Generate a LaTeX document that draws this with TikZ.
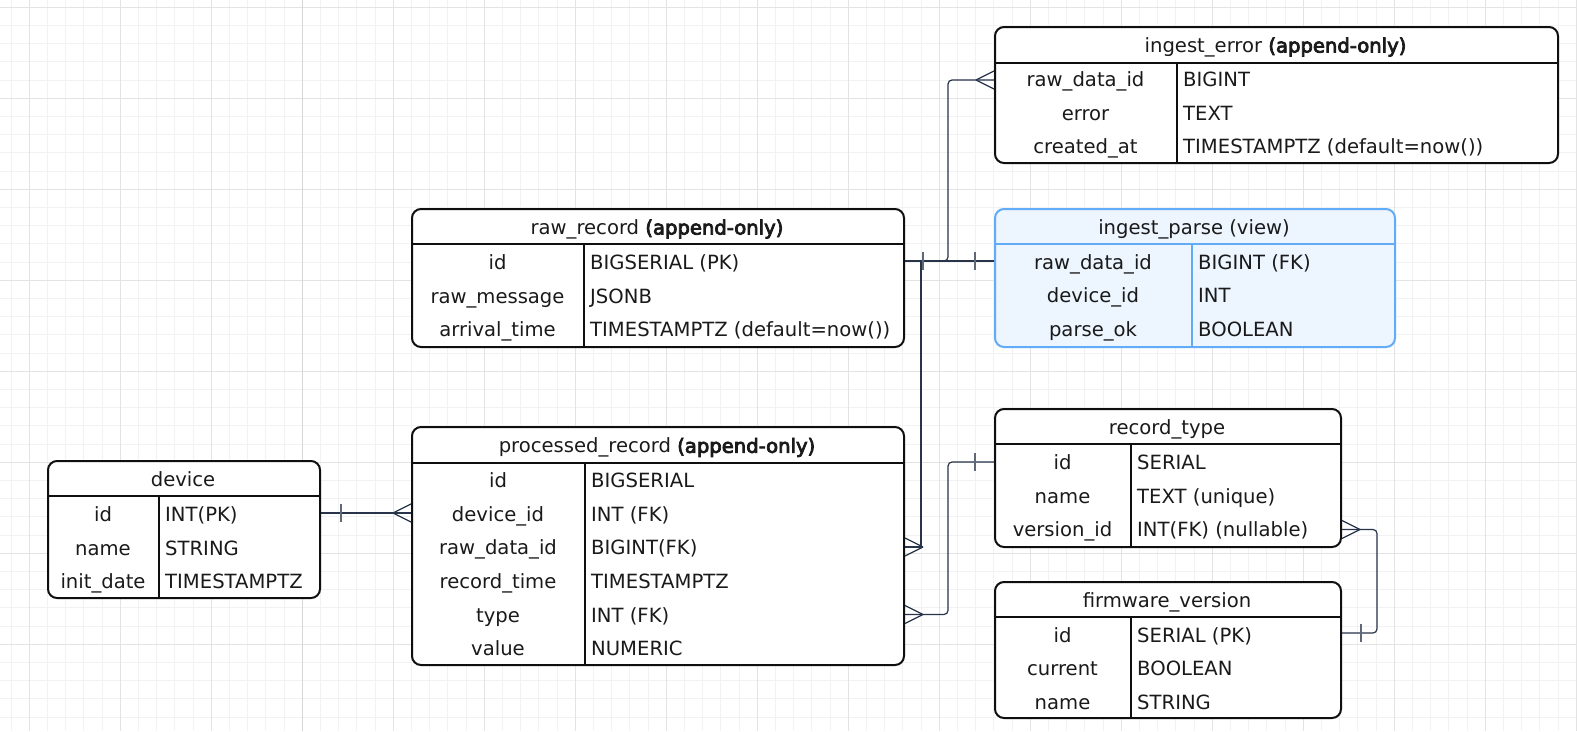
\documentclass[tikz,border=0pt]{standalone}
\usepackage{fontspec}
\setmainfont{DejaVu Sans}[BoldFont={DejaVu Sans},BoldFeatures={FakeBold=4}]
\usetikzlibrary{calc}

\definecolor{ink}{HTML}{1A1A1A}
\definecolor{edge}{HTML}{0F0F0F}
\definecolor{wire}{HTML}{27344A}
\definecolor{barc}{HTML}{5E6876}
\definecolor{gridminor}{HTML}{F2F2F2}
\definecolor{gridmajor}{HTML}{E3E3E3}
\definecolor{pageline}{HTML}{D6D6D6}
\definecolor{viewfill}{HTML}{EDF5FF}
\definecolor{viewedge}{HTML}{62ABF6}

\tikzset{
  tbl/.style={draw=edge, line width=2pt, rounded corners=9pt, fill=white,
              inner sep=0pt, anchor=north west},
  rule/.style={draw=edge, line width=2pt},
  view/.style={draw=viewedge, fill=viewfill},
  txt/.style={font=\fontsize{19.6}{23}\selectfont, text=ink, inner sep=0pt, anchor=base},
  ltxt/.style={txt, anchor=base west},
  wire/.style={draw=wire, line width=1.2pt, rounded corners=4pt},
  onebar/.style={draw=barc, line width=1.5pt},
}

% table frame: name, left, top, right, bottom, header rule y, column divider x, extra style
\newcommand\erbox[8]{%
  \node[tbl,#8,minimum width={(#4-#2)*1pt},minimum height={(#5-#3)*1pt}] (#1) at (#2,#3) {};
  \draw[rule,#8,fill=none] (#1.west |- 0,#6) -- (#1.east |- 0,#6);
  \draw[rule,#8,fill=none] (#7,#6) -- (#1.south -| #7,0);
}
% one attribute row: table, index, name x, type x, baseline y, name, type
\newcommand\errow[7]{%
  \node[txt] (#1-#2a) at (#3,#5) {#6};
  \node[ltxt] (#1-#2b) at (#4,#5) {#7};
}
% crow's foot at an end point, apex 18 units to the side given by the sign
\newcommand\crow[2]{%
  \draw[wire,rounded corners=0pt] ($(#1)+(#2*18,0)$) -- ($(#1)+(0,-9)$)
        ($(#1)+(#2*18,0)$) -- ($(#1)+(0,9)$);
}
% single bar across a connector, offset from an end point
\newcommand\erbar[2]{%
  \draw[onebar] ($(#1)+(#2,-9)$) -- ($(#1)+(#2,9)$);
}

\begin{document}
\begin{tikzpicture}[x=1pt,y=-1pt]
\useasboundingbox (0,0) rectangle (1577,731);
\fill[white] (0,0) rectangle (1577,731);

% background grid
\foreach \i in {0,...,87}
  \draw[gridminor, line width=1pt] ({11.1+18.2*\i},0) -- ({11.1+18.2*\i},731);
\foreach \i in {0,...,40}
  \draw[gridminor, line width=1pt] (0,{7.3+18.2*\i}) -- (1577,{7.3+18.2*\i});
\foreach \i in {0,...,17}
  \draw[gridmajor, line width=1.2pt] ({29.3+91*\i},0) -- ({29.3+91*\i},731);
\foreach \i in {0,...,8}
  \draw[gridmajor, line width=1.2pt] (0,{7.3+91*\i}) -- (1577,{7.3+91*\i});
% page boundary
\draw[pageline, line width=1.4pt] (302.3,0) -- (302.3,731);

% device
\erbox{dev}{47}{460}{319}{597}{496}{159}{}
\node[txt] (dev-t) at (183,486.5) {device};
\errow{dev}{1}{103}{165}{521.7}{id}{INT(PK)}
\errow{dev}{2}{103}{165}{555.2}{name}{STRING}
\errow{dev}{3}{103}{165}{588.7}{init\_date}{TIMESTAMPTZ}

% raw_record
\erbox{raw}{411}{208}{903}{346}{244}{584}{}
\node[txt] (raw-t) at (657,234.5) {raw\_record \textbf{(append-only)}};
\errow{raw}{1}{497.5}{590}{269.7}{id}{BIGSERIAL (PK)}
\errow{raw}{2}{497.5}{590}{303.2}{raw\_message}{JSONB}
\errow{raw}{3}{497.5}{590}{336.7}{arrival\_time}{TIMESTAMPTZ (default=now())}

% processed_record
\erbox{proc}{411}{426}{903}{664}{462.5}{585}{}
\node[txt] (proc-t) at (657,452.8) {processed\_record \textbf{(append-only)}};
\errow{proc}{1}{498}{591}{487.7}{id}{BIGSERIAL}
\errow{proc}{2}{498}{591}{521.3}{device\_id}{INT (FK)}
\errow{proc}{3}{498}{591}{554.9}{raw\_data\_id}{BIGINT(FK)}
\errow{proc}{4}{498}{591}{588.5}{record\_time}{TIMESTAMPTZ}
\errow{proc}{5}{498}{591}{622.1}{type}{INT (FK)}
\errow{proc}{6}{498}{591}{655.7}{value}{NUMERIC}

% ingest_error
\erbox{ierr}{994}{26}{1557}{162}{62.5}{1177}{}
\node[txt] (ierr-t) at (1275.5,52.5) {ingest\_error \textbf{(append-only)}};
\errow{ierr}{1}{1085.5}{1183}{86.7}{raw\_data\_id}{BIGINT}
\errow{ierr}{2}{1085.5}{1183}{120.2}{error}{TEXT}
\errow{ierr}{3}{1085.5}{1183}{153.7}{created\_at}{TIMESTAMPTZ (default=now())}

% ingest_parse (view)
\erbox{ipar}{994}{208}{1394}{346}{244}{1192}{view}
\node[txt] (ipar-t) at (1194,234.5) {ingest\_parse (view)};
\errow{ipar}{1}{1093}{1198}{269.2}{raw\_data\_id}{BIGINT (FK)}
\errow{ipar}{2}{1093}{1198}{302.7}{device\_id}{INT}
\errow{ipar}{3}{1093}{1198}{336.2}{parse\_ok}{BOOLEAN}

% record_type
\erbox{rtyp}{994}{408}{1340}{546}{444}{1131}{}
\node[txt] (rtyp-t) at (1167,434.5) {record\_type};
\errow{rtyp}{1}{1062.5}{1137}{469.7}{id}{SERIAL}
\errow{rtyp}{2}{1062.5}{1137}{503.2}{name}{TEXT (unique)}
\errow{rtyp}{3}{1062.5}{1137}{536.7}{version\_id}{INT(FK) (nullable)}

% firmware_version
\erbox{fw}{994}{581}{1340}{717}{617}{1131}{}
\node[txt] (fw-t) at (1167,607.5) {firmware\_version};
\errow{fw}{1}{1062.5}{1137}{642.2}{id}{SERIAL (PK)}
\errow{fw}{2}{1062.5}{1137}{675.7}{current}{BOOLEAN}
\errow{fw}{3}{1062.5}{1137}{709.2}{name}{STRING}

% device 1 -- n processed_record
\coordinate (a1) at (dev.east |- 0,513);
\coordinate (a2) at (proc.west |- 0,513);
\draw[wire] (a1) -- (a2);
\erbar{a1}{20}
\crow{a2}{-1}

% raw_record 1 -- n ingest_error
\coordinate (b1) at (raw.east |- 0,261);
\coordinate (b2) at (ierr.west |- 0,80);
\draw[wire] (b1) -- (b1 -| 948,0) -- (948,0 |- b2) -- (b2);
\crow{b2}{-1}

% raw_record 1 -- 1 ingest_parse
\coordinate (c2) at (ipar.west |- 0,261);
\draw[wire] (b1) -- (c2);
\erbar{b1}{18}
\erbar{c2}{-19}

% raw_record 1 -- n processed_record
\coordinate (d2) at (proc.east |- 0,547);
\draw[wire,rounded corners=0pt] (b1) -- (b1 -| 921,0) -- (921,0 |- d2) -- (d2);
\crow{d2}{1}

% record_type 1 -- n processed_record
\coordinate (e1) at (proc.east |- 0,614.5);
\coordinate (e2) at (rtyp.west |- 0,462);
\draw[wire] (e1) -- (e1 -| 948,0) -- (948,0 |- e2) -- (e2);
\crow{e1}{1}
\erbar{e2}{-19}

% firmware_version 1 -- n record_type
\coordinate (f1) at (rtyp.east |- 0,529.5);
\coordinate (f2) at (fw.east |- 0,633);
\draw[wire] (f1) -- (f1 -| 1377,0) -- (1377,0 |- f2) -- (f2);
\crow{f1}{1}
\erbar{f2}{19}
\end{tikzpicture}
\end{document}
